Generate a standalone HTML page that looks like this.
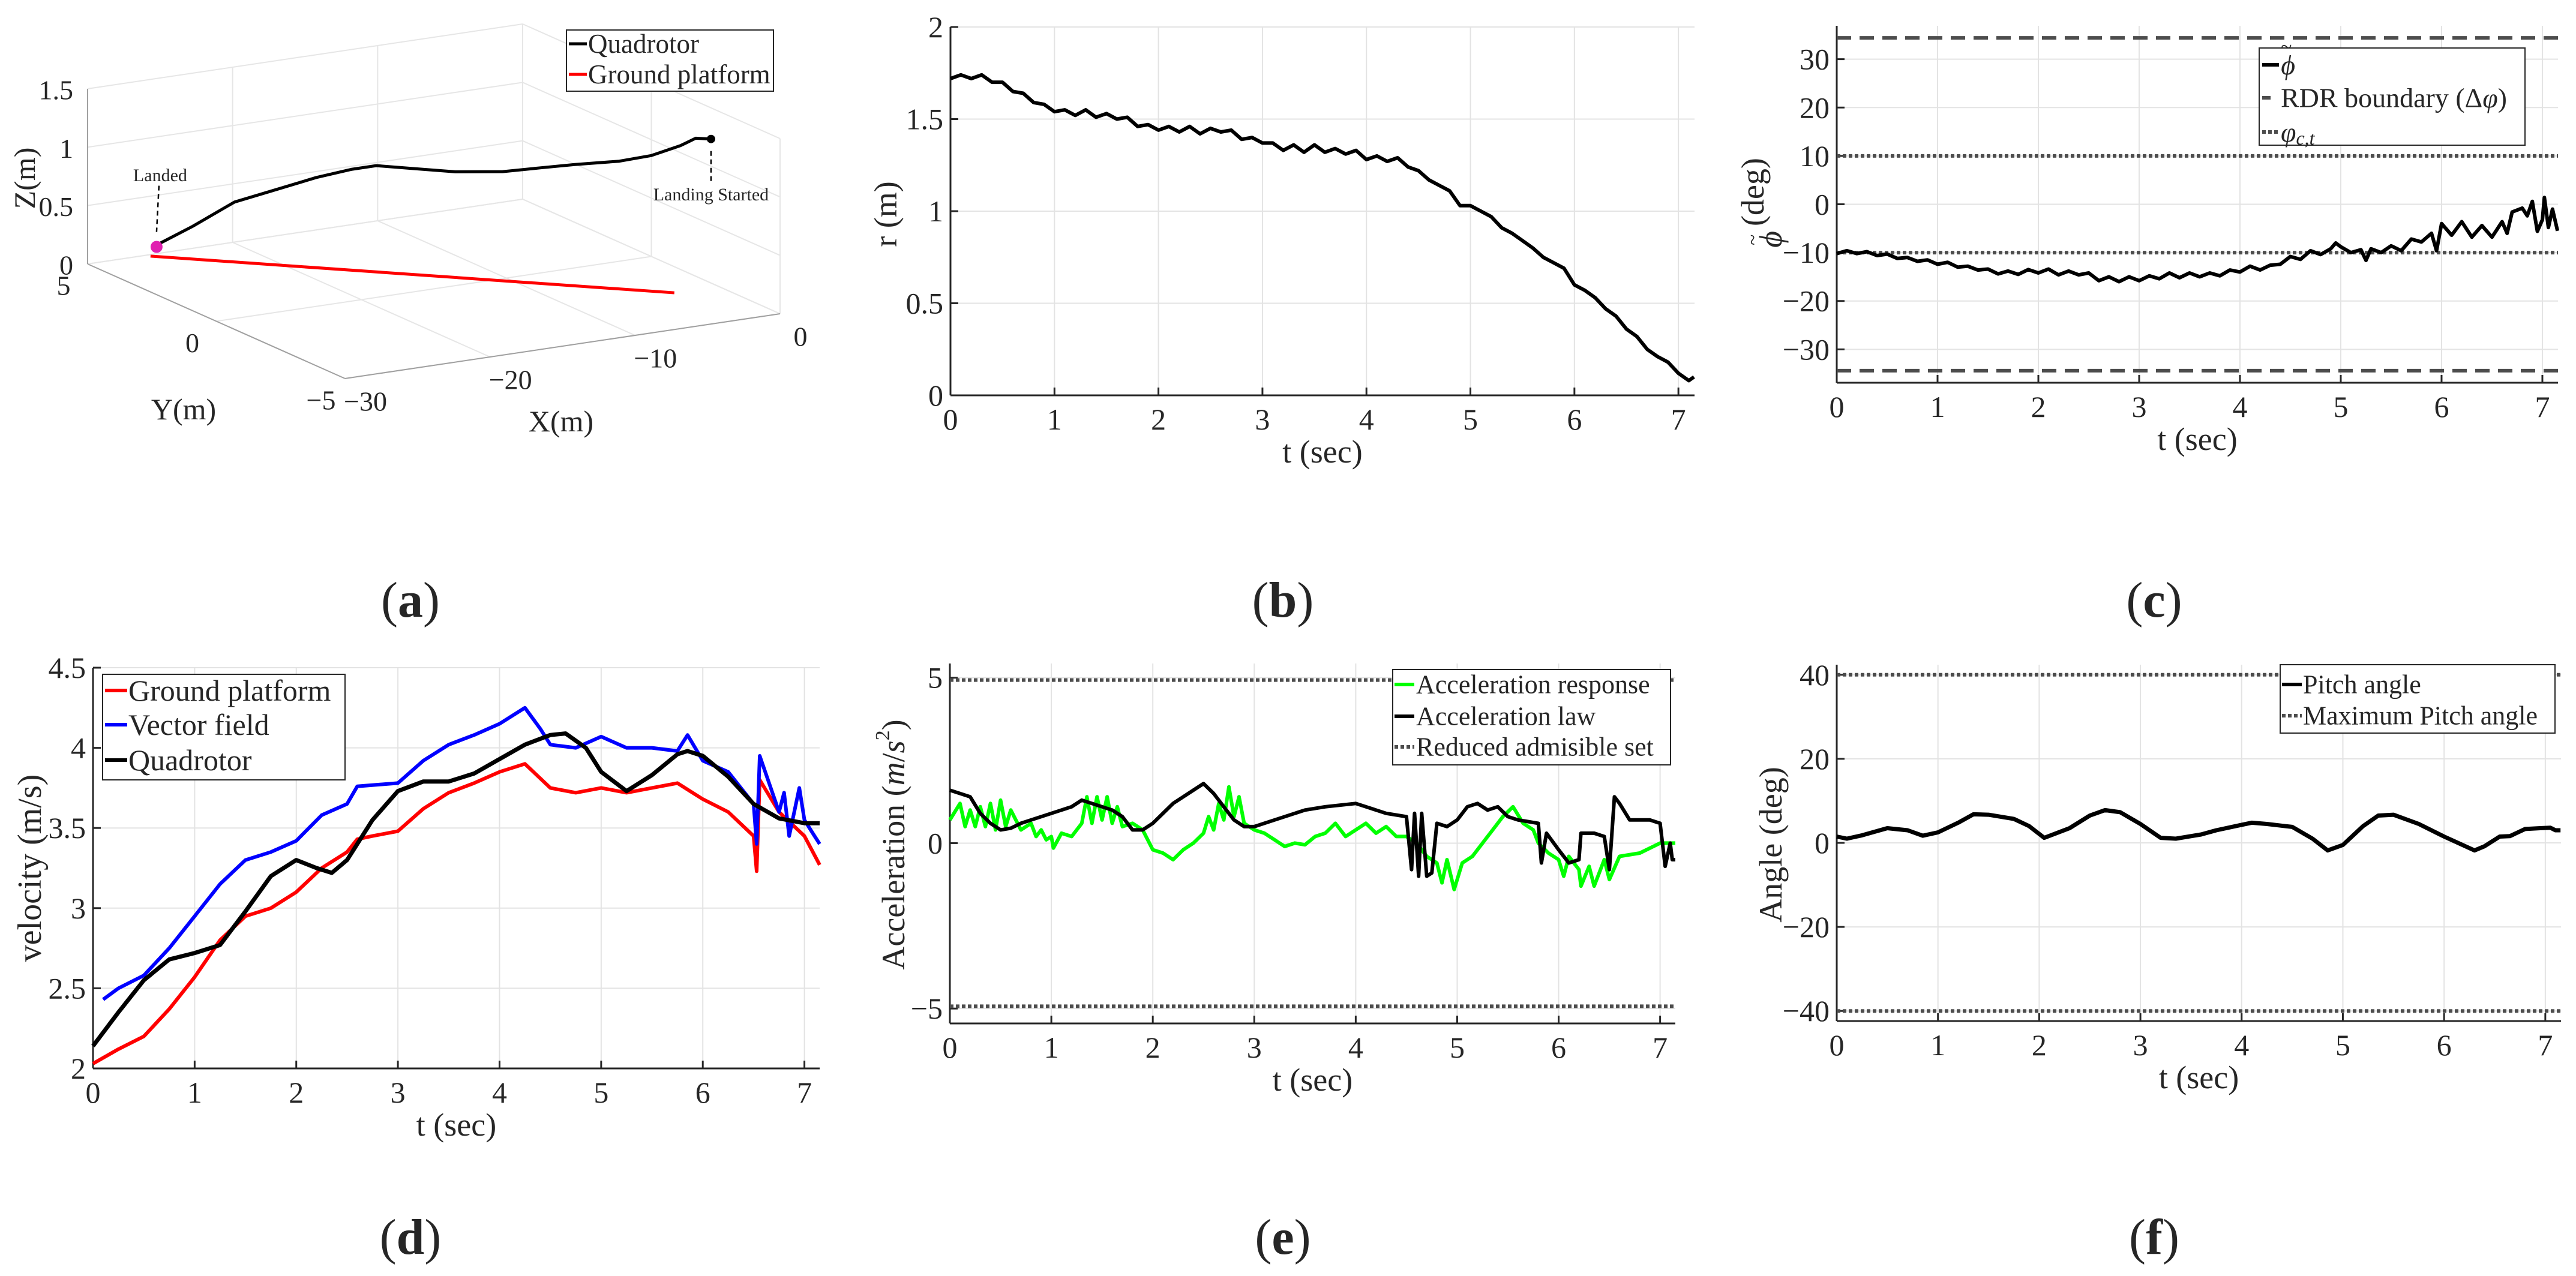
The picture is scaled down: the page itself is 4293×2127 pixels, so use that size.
<!DOCTYPE html>
<html><head><meta charset="utf-8"><style>
html,body{margin:0;padding:0;background:#fff}
svg{display:block}
svg text{font-family:"Liberation Serif","DejaVu Serif",serif !important;fill:#262626}
</style></head><body>
<svg id="fig" width="4293" height="2127" viewBox="0 0 4293 2127" xmlns="http://www.w3.org/2000/svg" font-family="Liberation Serif, DejaVu Serif, serif"></svg>
<script>
// ---------- DATA ----------
const xTicks = [0,1,2,3,4,5,6,7];
// (a) 3D trajectory
const gpX = [-25.84, -3.03];
const gpY = [4.9, -2.6];
const gpZ = [0, 0];
const quadX = [-25.6,-24.0,-22.0,-20.3,-18.3,-16.8,-15.6,-13.9,-12.1,-9.9,-8.2,-6.7,-4.7,-3.2,-1.9,-1.2,-0.5];
const quadY = [4.8,4.3,3.8,3.2,2.7,2.2,1.9,1.3,0.8,0.2,-0.3,-0.8,-1.4,-1.8,-2.2,-2.4,-2.6];
const quadZ = [0.10,0.28,0.50,0.63,0.75,0.84,0.88,0.88,0.87,0.89,0.94,0.99,1.04,1.10,1.20,1.27,1.27];
const aXTicks = [-30,-20,-10,0];
const aYTicks = [5,0,-5];
const aZTicks = [0,0.5,1,1.5];
const aZLabels = ['0','0.5','1','1.5'];
// (b) r
const rT = [0,0.1,0.2,0.3,0.4,0.5,0.6,0.7,0.8,0.9,1.0,1.1,1.2,1.3,1.4,1.5,1.6,1.7,1.8,1.9,2.0,2.1,2.2,2.3,2.4,2.5,2.6,2.7,2.8,2.9,3.0,3.1,3.2,3.3,3.4,3.5,3.6,3.7,3.8,3.9,4.0,4.1,4.2,4.3,4.4,4.5,4.6,4.7,4.8,4.9,5.0,5.1,5.2,5.3,5.4,5.5,5.6,5.7,5.8,5.9,6.0,6.1,6.2,6.3,6.4,6.5,6.6,6.7,6.8,6.9,7.0,7.1,7.15];
const rV = [1.72,1.74,1.72,1.74,1.70,1.70,1.65,1.64,1.59,1.58,1.54,1.55,1.52,1.55,1.51,1.53,1.50,1.51,1.46,1.47,1.44,1.46,1.43,1.46,1.42,1.45,1.43,1.44,1.39,1.40,1.37,1.37,1.33,1.36,1.32,1.36,1.32,1.34,1.31,1.33,1.28,1.30,1.27,1.29,1.24,1.22,1.17,1.14,1.11,1.03,1.03,1.00,0.97,0.91,0.88,0.84,0.80,0.75,0.72,0.69,0.60,0.57,0.53,0.47,0.43,0.36,0.32,0.25,0.21,0.18,0.12,0.08,0.10];
const bYTicks = [0,0.5,1,1.5,2];
const bYLabels = ['0','0.5','1','1.5','2'];
// (c) phi tilde
const phiT = [0,0.1,0.2,0.3,0.4,0.5,0.6,0.7,0.8,0.9,1.0,1.1,1.2,1.3,1.4,1.5,1.6,1.7,1.8,1.9,2.0,2.1,2.2,2.3,2.4,2.5,2.6,2.7,2.8,2.9,3.0,3.1,3.2,3.3,3.4,3.5,3.6,3.7,3.8,3.9,4.0,4.1,4.2,4.3,4.4,4.5,4.6,4.7,4.8,4.9,4.95,5.0,5.1,5.2,5.25,5.3,5.4,5.5,5.6,5.7,5.8,5.9,5.95,6.0,6.1,6.2,6.3,6.4,6.5,6.6,6.65,6.7,6.8,6.85,6.9,6.95,7.0,7.02,7.06,7.1,7.15];
const phiV = [-10.2,-9.6,-10.2,-9.8,-10.6,-10.3,-11.2,-11.0,-11.8,-11.5,-12.4,-12.0,-13.0,-12.8,-13.6,-13.4,-14.4,-13.8,-14.5,-13.5,-14.2,-13.4,-14.6,-13.8,-14.6,-14.2,-15.8,-15.0,-16.0,-15.0,-15.8,-14.8,-15.4,-14.2,-15.2,-14.2,-15.0,-14.2,-14.8,-13.6,-14.0,-12.8,-13.6,-12.6,-12.4,-10.8,-11.4,-9.6,-10.4,-9.2,-8.0,-8.8,-10.0,-9.4,-11.6,-9.2,-10.0,-8.6,-9.6,-7.2,-7.8,-6.0,-9.6,-4.0,-6.4,-3.6,-6.8,-4.4,-6.8,-3.6,-6.0,-1.6,-0.8,-2.4,0.6,-5.6,-3.2,1.4,-4.8,-1.0,-5.5];
const rdrBound = [34.4,-34.4];
const phiCT = [10,-10];
const cYTicks = [-30,-20,-10,0,10,20,30];
const cYLabels = ['\u221230','\u221220','\u221210','0','10','20','30'];
// (d) velocity
const gpVT = [0,0.25,0.5,0.75,1,1.25,1.5,1.75,2,2.25,2.5,2.6,2.75,3,3.25,3.5,3.75,4,4.25,4.5,4.75,5,5.25,5.5,5.75,6,6.25,6.5,6.53,6.56,6.75,7,7.15];
const gpV = [2.03,2.12,2.2,2.37,2.57,2.8,2.95,3.0,3.1,3.25,3.35,3.43,3.45,3.48,3.62,3.72,3.78,3.85,3.9,3.75,3.72,3.75,3.72,3.75,3.78,3.68,3.6,3.45,3.23,3.8,3.6,3.45,3.27];
const vfT = [0.1,0.25,0.5,0.75,1,1.25,1.5,1.75,2,2.25,2.5,2.6,3,3.25,3.5,3.75,4,4.25,4.4,4.5,4.75,5,5.25,5.5,5.75,5.85,6,6.25,6.5,6.53,6.56,6.75,6.8,6.85,6.95,7.0,7.1,7.15];
const vfV = [2.43,2.5,2.58,2.75,2.95,3.15,3.3,3.35,3.42,3.58,3.65,3.76,3.78,3.92,4.02,4.08,4.15,4.25,4.12,4.02,4.0,4.07,4.0,4.0,3.98,4.08,3.92,3.85,3.65,3.4,3.95,3.6,3.72,3.45,3.75,3.55,3.45,3.4];
const qvT = [0,0.25,0.5,0.75,1,1.25,1.5,1.75,2,2.2,2.35,2.5,2.75,3,3.25,3.5,3.75,4,4.25,4.5,4.65,4.85,5,5.25,5.5,5.75,5.85,6,6.25,6.5,6.75,7,7.15];
const qvV = [2.14,2.35,2.55,2.68,2.72,2.77,2.98,3.2,3.3,3.25,3.22,3.3,3.55,3.73,3.79,3.79,3.84,3.93,4.02,4.08,4.09,4.0,3.85,3.73,3.83,3.96,3.98,3.95,3.82,3.65,3.56,3.53,3.53];
const dYTicks = [2,2.5,3,3.5,4,4.5];
const dYLabels = ['2','2.5','3','3.5','4','4.5'];
// (e) acceleration
const arT = [0,0.1,0.15,0.2,0.25,0.3,0.35,0.4,0.45,0.5,0.55,0.6,0.7,0.8,0.85,0.9,0.95,1.0,1.02,1.1,1.2,1.3,1.35,1.4,1.45,1.5,1.55,1.6,1.65,1.7,1.8,1.9,2.0,2.1,2.2,2.3,2.4,2.5,2.55,2.6,2.65,2.7,2.75,2.8,2.85,2.9,3.0,3.1,3.2,3.3,3.4,3.5,3.6,3.7,3.8,3.9,4.0,4.1,4.2,4.3,4.4,4.5,4.6,4.7,4.8,4.85,4.9,4.97,5.05,5.15,5.25,5.35,5.45,5.55,5.65,5.75,5.8,5.9,6.0,6.05,6.1,6.2,6.22,6.3,6.35,6.45,6.5,6.6,6.8,7.0,7.15];
const arV = [0.7,1.2,0.5,1.0,0.5,1.1,0.5,1.2,0.4,1.3,0.5,1.0,0.4,0.6,0.2,0.4,0.1,0.2,-0.15,0.3,0.2,0.6,1.4,0.6,1.4,0.7,1.4,0.6,1.1,0.5,0.6,0.4,-0.2,-0.3,-0.5,-0.2,0.0,0.3,0.8,0.4,1.2,0.7,1.7,0.8,1.4,0.6,0.4,0.3,0.1,-0.1,0.0,-0.05,0.2,0.3,0.6,0.2,0.4,0.6,0.3,0.5,0.2,0.2,0.0,-0.4,-0.6,-1.2,-0.5,-1.4,-0.6,-0.4,0.0,0.4,0.8,1.1,0.6,0.4,0.0,-0.3,-0.5,-1.0,-0.4,-0.8,-1.3,-0.7,-1.3,-0.5,-1.1,-0.4,-0.3,0.0,0.0];
const alT = [0,0.1,0.2,0.3,0.4,0.5,0.6,0.7,0.8,0.9,1.0,1.1,1.2,1.3,1.4,1.5,1.6,1.7,1.8,1.9,2.0,2.1,2.2,2.3,2.4,2.5,2.6,2.7,2.8,2.9,3.0,3.2,3.4,3.5,3.7,4.0,4.2,4.3,4.5,4.55,4.58,4.62,4.65,4.7,4.75,4.8,4.9,5.0,5.1,5.2,5.3,5.4,5.5,5.6,5.8,5.83,5.88,6.0,6.1,6.2,6.22,6.35,6.45,6.5,6.55,6.6,6.7,6.9,7.0,7.05,7.1,7.12,7.15];
const alV = [1.6,1.5,1.4,0.9,0.6,0.4,0.45,0.6,0.7,0.8,0.9,1.0,1.1,1.3,1.2,1.1,1.0,0.8,0.4,0.4,0.6,0.9,1.2,1.4,1.6,1.8,1.5,1.1,0.7,0.5,0.5,0.7,0.9,1.0,1.1,1.2,1.0,0.9,0.8,-0.8,0.9,-1.0,0.9,-1.0,-0.9,0.6,0.5,0.7,1.1,1.2,1.0,1.1,0.8,0.7,0.6,-0.6,0.3,-0.2,-0.6,-0.5,0.3,0.3,0.2,-0.8,1.4,1.2,0.7,0.7,0.6,-0.7,0.0,-0.5,-0.5];
const admSet = [4.93,-4.93];
const eYTicks = [-5,0,5];
const eYLabels = ['\u22125','0','5'];
// (f) pitch
const ptT = [0,0.1,0.25,0.5,0.7,0.85,1.0,1.2,1.35,1.5,1.75,1.9,2.05,2.3,2.5,2.65,2.8,3.0,3.2,3.35,3.6,3.75,4.0,4.1,4.25,4.5,4.7,4.85,5.0,5.2,5.35,5.5,5.75,6.0,6.3,6.4,6.55,6.65,6.8,6.95,7.05,7.1,7.15];
const ptV = [1.5,1.0,1.8,3.5,3.0,1.7,2.5,4.8,6.8,6.7,5.7,4.0,1.2,3.5,6.5,7.8,7.3,4.5,1.2,1.0,2.0,3.0,4.3,4.8,4.5,3.8,1.0,-1.8,-0.5,4.0,6.5,6.7,4.5,1.5,-1.8,-0.8,1.5,1.6,3.3,3.5,3.6,3.0,3.0];
const maxPitch = [40,-40];
const fYTicks = [-40,-20,0,20,40];
const fYLabels = ['\u221240','\u221220','0','20','40'];

// ---------- HELPERS ----------
const NS = 'http://www.w3.org/2000/svg';
const svg = document.getElementById('fig');
const FONT = '"Liberation Serif", "DejaVu Serif", serif';
function mk(tag, attrs, parent){
  const e = document.createElementNS(NS, tag);
  for (const k in attrs) e.setAttribute(k, attrs[k]);
  if (tag === 'text') e.setAttribute('font-family', FONT);
  (parent || svg).appendChild(e);
  return e;
}
function txt(s, x, y, size, anchor, parent, extra){
  const t = mk('text', Object.assign({x:x, y:y, 'font-size':size, 'text-anchor':anchor||'middle', 'dominant-baseline':'central'}, extra||{}), parent);
  t.textContent = s;
  return t;
}
function makeAxes(o){
  const g = mk('g', {});
  
  
  const sx = t => o.L + (t - o.xmin) / (o.xmax - o.xmin) * (o.R - o.L);
  const sy = v => o.B - (v - o.ymin) / (o.ymax - o.ymin) * (o.B - o.T);
  const grid = mk('g', {stroke:'#e3e3e3', 'stroke-width':2}, g);
  
  
  xTicks.forEach(t => { if (t > o.xmin) mk('line', {x1:sx(t), x2:sx(t), y1:o.T, y2:o.B}, grid); });
  o.yTicks.forEach(v => { if (v > o.ymin) mk('line', {x1:o.L, x2:o.R, y1:sy(v), y2:sy(v)}, grid); });
  const ax = mk('g', {stroke:'#262626', 'stroke-width':3}, g);
  
  
  mk('line', {x1:o.L, x2:o.L, y1:o.T, y2:o.B}, ax);
  mk('line', {x1:o.L, x2:o.R, y1:o.B, y2:o.B}, ax);
  xTicks.forEach(t => mk('line', {x1:sx(t), x2:sx(t), y1:o.B, y2:o.B-13}, ax));
  o.yTicks.forEach(v => mk('line', {x1:o.L, x2:o.L+13, y1:sy(v), y2:sy(v)}, ax));
  const xl = mk('g', {}, g);
  
  
  xTicks.forEach(t => txt(String(t), sx(t), o.B + 40, 50, 'middle', xl));
  const yl = mk('g', {}, g);
  
  
  o.yTicks.forEach((v,i) => txt(o.yLabels[i], o.L - 12, sy(v), 50, 'end', yl));
  const xt = txt('t (sec)', (o.L + o.R)/2, o.B + 94, 54, 'middle', g);
  
  
  return {g, sx, sy};
}
function series(ax, ts, vs, color, width, name, dash){
  const pts = ts.map((t,i) => ax.sx(t).toFixed(1) + ',' + ax.sy(vs[i]).toFixed(1)).join(' ');
  const p = mk('polyline', {points:pts, fill:'none', stroke:color, 'stroke-width':width, 'stroke-linejoin':'round'}, ax.g);
  if (dash) p.setAttribute('stroke-dasharray', dash);
  
  
  return p;
}
function hline(ax, o, v, dash, w, name){
  const l = mk('line', {x1:o.L, x2:o.R, y1:ax.sy(v), y2:ax.sy(v), stroke:'#4d4d4d', 'stroke-width':w, 'stroke-dasharray':dash}, ax.g);
  
  
}
function legend(name, x, y, w, h, rows, fs){
  const g = mk('g', {});
  
  
  mk('rect', {x:x, y:y, width:w, height:h, fill:'#fff', stroke:'#262626', 'stroke-width':2}, g);
  rows.forEach(r => {
    const e = mk('g', {}, g);
    
    
    const l = mk('line', {x1:r.lx1, x2:r.lx2, y1:r.y, y2:r.y, stroke:r.color, 'stroke-width':r.w}, e);
    if (r.dash) l.setAttribute('stroke-dasharray', r.dash);
    const t = txt('', r.tx, r.y, fs, 'start', e);
    t.innerHTML = r.label;
  });
  return g;
}
function panelLabel(letter, x, y){
  const t = mk('text', {x:x, y:y, 'font-size':84, 'text-anchor':'middle', fill:'#000'});
  t.innerHTML = '(<tspan font-weight="bold">' + letter + '</tspan>)';
  
  
}
function rotLabel(html, x, y, size, name){
  const t = mk('text', {x:x, y:y, 'font-size':size, 'text-anchor':'middle', 'dominant-baseline':'central', transform:'rotate(-90 ' + x + ' ' + y + ')'});
  t.innerHTML = html;
  
  
}
const PHI_TILDE = '<tspan font-style="italic">\u03D5</tspan><tspan dx="-24" dy="-30" font-size="34">~</tspan><tspan dx="4" dy="30"></tspan>';

// ---------- (a) 3D ----------
(function(){
  const g = mk('g', {});
  
  
  const P = (X,Y,Z) => [146 + (X+30)/30*725 + (5-Y)/10*429, 440 - (X+30)/30*108 + (5-Y)/10*191 - Z/1.5*292];
  const L = (a,b,st,w,par) => mk('line', {x1:a[0], y1:a[1], x2:b[0], y2:b[1], stroke:st, 'stroke-width':w}, par);
  const grid = mk('g', {}, g);
  
  
  const gc = '#e6e6e6';
  aXTicks.forEach(X => { L(P(X,5,0), P(X,5,1.5), gc, 2, grid); L(P(X,5,0), P(X,-5,0), gc, 2, grid); });
  aYTicks.forEach(Y => { L(P(0,Y,0), P(0,Y,1.5), gc, 2, grid); L(P(-30,Y,0), P(0,Y,0), gc, 2, grid); });
  aZTicks.forEach(Z => { L(P(-30,5,Z), P(0,5,Z), gc, 2, grid); L(P(0,5,Z), P(0,-5,Z), gc, 2, grid); });
  const ax = mk('g', {}, g);
  
  
  L(P(-30,5,0), P(-30,5,1.5), '#a0a0a0', 2, ax);
  L(P(-30,5,0), P(-30,-5,0), '#a0a0a0', 2, ax);
  L(P(-30,-5,0), P(0,-5,0), '#a0a0a0', 2, ax);
  const lab = mk('g', {}, g);
  
  
  aZTicks.forEach((Z,i) => { const p = P(-30,5,Z); txt(aZLabels[i], p[0]-24, p[1]+2, 46, 'end', lab); });
  aYTicks.forEach(Y => { const p = P(-30,Y,0); txt(Y<0?'\u2212'+(-Y):String(Y), p[0]-40, p[1]+36, 46, 'middle', lab); });
  aXTicks.forEach(X => { const p = P(X,-5,0); txt(X<0?'\u2212'+(-X):String(X), p[0]+34, p[1]+38, 46, 'middle', lab); });
  const zt = mk('text', {x:41, y:297, 'font-size':50, 'text-anchor':'middle', 'dominant-baseline':'central', transform:'rotate(-90 41 297)'}, g);
  zt.textContent = 'Z(m)';
  
  
  const yt = txt('Y(m)', 306, 682, 50, 'middle', g);
  
  
  const xt = txt('X(m)', 935, 702, 50, 'middle', g);
  
  
  const gp = mk('polyline', {points: gpX.map((x,i)=>P(x,gpY[i],gpZ[i]).join(',')).join(' '), fill:'none', stroke:'#ff0000', 'stroke-width':5}, g);
  
  
  const qd = mk('polyline', {points: quadX.map((x,i)=>P(x,quadY[i],quadZ[i]).map(v=>v.toFixed(1)).join(',')).join(' '), fill:'none', stroke:'#000', 'stroke-width':5, 'stroke-linejoin':'round'}, g);
  
  
  const s = P(quadX[0],quadY[0],quadZ[0]);
  const land = mk('circle', {cx:s[0], cy:s[1]+3, r:10, fill:'#e020b0'}, g);
  
  
  const n = quadX.length-1;
  const e = P(quadX[n],quadY[n],quadZ[n]);
  const st = mk('circle', {cx:e[0], cy:e[1], r:7, fill:'#000'}, g);
  
  
  mk('line', {x1:s[0]+4, y1:s[1]-99, x2:s[0], y2:s[1]-22, stroke:'#000', 'stroke-width':2.5, 'stroke-dasharray':'8 6'}, g);
  mk('line', {x1:e[0], y1:e[1]+20, x2:e[0], y2:e[1]+74, stroke:'#000', 'stroke-width':2.5, 'stroke-dasharray':'8 6'}, g);
  const t1 = txt('Landed', s[0]+6, s[1]-116, 30, 'middle', g);
  
  
  const t2 = txt('Landing Started', e[0], e[1]+93, 30, 'middle', g);
  
  
  legend('a-legend', 944, 50, 345, 102, [
    {lx1:948, lx2:978, y:73, color:'#000', w:5, tx:980, label:'Quadrotor'},
    {lx1:948, lx2:978, y:124, color:'#ff0000', w:5, tx:980, label:'Ground platform'}
  ], 45);
})();
panelLabel('a', 684, 1028);

// ---------- (b) ----------
const oB = {name:'panel-b-range', L:1584, R:2824, T:45, B:659, xmin:0, xmax:7.155, ymin:0, ymax:2, yTicks:bYTicks, yLabels:bYLabels};
const axB = makeAxes(oB);
series(axB, rT, rV, '#000', 6, 'range-series');
rotLabel('r  (m)', 1476, 357, 54, 'b-y-axis-title');
panelLabel('b', 2138, 1028);

// ---------- (c) ----------
const oC = {name:'panel-c-angle-error', L:3061, R:4263, T:43, B:638, xmin:0, xmax:7.155, ymin:-36.9, ymax:36.9, yTicks:cYTicks, yLabels:cYLabels};
const axC = makeAxes(oC);
rdrBound.forEach(v => hline(axC, oC, v, '24 14', 6, 'rdr-boundary-line'));
phiCT.forEach(v => hline(axC, oC, v, '6 4', 6, 'phi-ct-line'));
series(axC, phiT, phiV, '#000', 6, 'phi-tilde-series');
rotLabel(PHI_TILDE + '  (deg)', 2951, 338, 54, 'c-y-axis-title');
legend('c-legend', 3765, 80, 443, 162, [
  {lx1:3770, lx2:3798, y:108, color:'#000', w:6, tx:3801, label:PHI_TILDE},
  {lx1:3770, lx2:3784, y:163, color:'#4d4d4d', w:6, tx:3801, label:'RDR boundary (Δ<tspan font-style="italic">φ</tspan>)'},
  {lx1:3770, lx2:3798, y:220, color:'#4d4d4d', w:6, dash:'6 4', tx:3801, label:'<tspan font-style="italic">φ</tspan><tspan font-size="32" dy="10" font-style="italic">c,t</tspan>'}
], 46);
panelLabel('c', 3590, 1028);

// ---------- (d) ----------
const oD = {name:'panel-d-velocity', L:155, R:1366, T:1113, B:1781, xmin:0, xmax:7.15, ymin:2, ymax:4.5, yTicks:dYTicks, yLabels:dYLabels};
const axD = makeAxes(oD);
series(axD, gpVT, gpV, '#ff0000', 6, 'ground-platform-velocity');
series(axD, vfT, vfV, '#0000ff', 6, 'vector-field-velocity');
series(axD, qvT, qvV, '#000', 7, 'quadrotor-velocity');
rotLabel('velocity  (m/s)', 50, 1447, 56, 'd-y-axis-title');
legend('d-legend', 171, 1124, 404, 176, [
  {lx1:175, lx2:212, y:1151, color:'#ff0000', w:6, tx:214, label:'Ground platform'},
  {lx1:175, lx2:212, y:1208, color:'#0000ff', w:6, tx:214, label:'Vector field'},
  {lx1:175, lx2:212, y:1267, color:'#000', w:6, tx:214, label:'Quadrotor'}
], 50);
panelLabel('d', 684, 2090);

// ---------- (e) ----------
const oE = {name:'panel-e-acceleration', L:1583, R:2792, T:1106, B:1706, xmin:0, xmax:7.15, ymin:-5.45, ymax:5.43, yTicks:eYTicks, yLabels:eYLabels};
const axE = makeAxes(oE);
admSet.forEach(v => hline(axE, oE, v, '6 4', 6, 'admissible-set-line'));
series(axE, arT, arV, '#00ff00', 6, 'acceleration-response');
series(axE, alT, alV, '#000', 6, 'acceleration-law');
rotLabel('Acceleration  (<tspan font-style="italic">m</tspan>/<tspan font-style="italic">s</tspan><tspan font-size="34" dy="-18">2</tspan><tspan dy="18">)</tspan>', 1489, 1408, 54, 'e-y-axis-title');
legend('e-legend', 2321, 1116, 463, 159, [
  {lx1:2324, lx2:2357, y:1141, color:'#00ff00', w:6, tx:2360, label:'Acceleration response'},
  {lx1:2324, lx2:2357, y:1194, color:'#000', w:6, tx:2360, label:'Acceleration law'},
  {lx1:2324, lx2:2357, y:1245, color:'#4d4d4d', w:6, dash:'6 4', tx:2360, label:'Reduced admisible set'}
], 44);
panelLabel('e', 2138, 2090);

// ---------- (f) ----------
const oF = {name:'panel-f-pitch', L:3061, R:4268, T:1108, B:1702, xmin:0, xmax:7.155, ymin:-42.4, ymax:42.4, yTicks:fYTicks, yLabels:fYLabels};
const axF = makeAxes(oF);
maxPitch.forEach(v => hline(axF, oF, v, '6 4', 6, 'max-pitch-line'));
series(axF, ptT, ptV, '#000', 7, 'pitch-angle-series');
rotLabel('Angle  (deg)', 2951, 1408, 54, 'f-y-axis-title');
legend('f-legend', 3800, 1108, 458, 114, [
  {lx1:3803, lx2:3836, y:1141, color:'#000', w:6, tx:3838, label:'Pitch angle'},
  {lx1:3803, lx2:3836, y:1193, color:'#4d4d4d', w:6, dash:'6 4', tx:3838, label:'Maximum Pitch angle'}
], 44);
panelLabel('f', 3590, 2090);
</script>
</body></html>
